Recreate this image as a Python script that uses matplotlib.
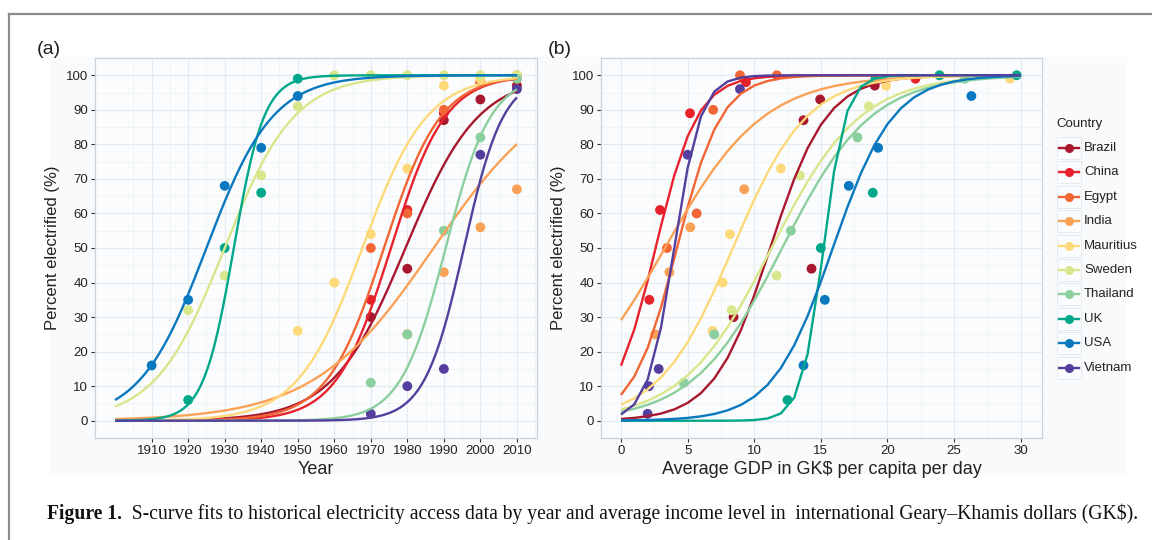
import numpy as np
import matplotlib
matplotlib.use("Agg")
import matplotlib.pyplot as plt
from matplotlib.lines import Line2D
from matplotlib.patches import Rectangle

plt.rcParams['font.family'] = ['Liberation Sans', 'DejaVu Sans']

countries = ['Brazil', 'China', 'Egypt', 'India', 'Mauritius', 'Sweden',
             'Thailand', 'UK', 'USA', 'Vietnam']
colors = ['#A8182F', '#E8222D', '#F26535', '#F9A257', '#FED97A', '#D8E68C',
          '#8CCF9E', '#00A78A', '#0A78BE', '#543F9E']

# ---- panel (a): electrification by year ----
a_years = {
    'Brazil': [1970, 1980, 1990, 2000, 2010],
    'China': [1970, 1980, 1990, 2000, 2010],
    'Egypt': [1970, 1980, 1990, 2000, 2010],
    'India': [1980, 1990, 2000, 2010],
    'Mauritius': [1950, 1960, 1970, 1980, 1990, 2000, 2010],
    'Sweden': [1920, 1930, 1940, 1950, 1960, 1970, 1980, 1990, 2000, 2010],
    'Thailand': [1970, 1980, 1990, 2000, 2010],
    'UK': [1920, 1930, 1940, 1950],
    'USA': [1910, 1920, 1930, 1940, 1950],
    'Vietnam': [1970, 1980, 1990, 2000, 2010],
}
a_values = {
    'Brazil': [30, 44, 87, 93, 97],
    'China': [35, 61, 89, 98, 100],
    'Egypt': [50, 60, 90, 98, 99],
    'India': [25, 43, 56, 67],
    'Mauritius': [26, 40, 54, 73, 97, 99, 100],
    'Sweden': [32, 42, 71, 91, 100, 100, 100, 100, 100, 100],
    'Thailand': [11, 25, 55, 82, 99],
    'UK': [6, 50, 66, 99],
    'USA': [16, 35, 68, 79, 94],
    'Vietnam': [2, 10, 15, 77, 96],
}
# fitted S-curve parameters: steepness, midpoint year
a_fit_k = [0.100, 0.134, 0.128, 0.061, 0.113, 0.105, 0.162, 0.240, 0.110, 0.185]
a_fit_mid = [1979.5, 1975.5, 1973.6, 1987.2, 1967.7, 1930.0, 1990.5, 1932.5, 1925.0, 1995.5]
a_fit_range = [1900, 2010]
a_xticks = [1910, 1920, 1930, 1940, 1950, 1960, 1970, 1980, 1990, 2000, 2010]

# ---- panel (b): electrification by income ----
b_gdp = {
    'Brazil': [8.45, 14.3, 13.7, 14.95, 19.05],
    'China': [2.13, 2.93, 5.18, 9.38, 22.1],
    'Egypt': [3.45, 5.68, 6.92, 8.93, 11.7],
    'India': [2.57, 3.63, 5.2, 9.25],
    'Mauritius': [6.88, 7.63, 8.18, 12.0, 19.9, 29.2],
    'Sweden': [8.3, 11.68, 13.43, 18.6, 23.95],
    'Thailand': [4.7, 7.0, 12.75, 17.75, 25.8],
    'UK': [12.5, 15.0, 18.9, 19.1, 23.9, 29.7],
    'USA': [13.7, 15.3, 17.1, 19.3, 26.3],
    'Vietnam': [2.0, 2.1, 2.83, 5.0, 8.93],
}
b_values = {
    'Brazil': [30, 44, 87, 93, 97],
    'China': [35, 61, 89, 98, 99],
    'Egypt': [50, 60, 90, 100, 100],
    'India': [25, 43, 56, 67],
    'Mauritius': [26, 40, 54, 73, 97, 99],
    'Sweden': [32, 42, 71, 91, 100],
    'Thailand': [11, 25, 55, 82, 99],
    'UK': [6, 50, 66, 99, 100, 100],
    'USA': [16, 35, 68, 79, 94],
    'Vietnam': [2, 10, 15, 77, 96],
}
b_fit_k = [0.47, 0.64, 0.60, 0.27, 0.36, 0.30, 0.30, 1.20, 0.44, 1.00]
b_fit_mid = [11.2, 2.6, 4.2, 3.3, 8.4, 11.3, 12.1, 15.2, 15.9, 4.0]
b_fit_range = [0, 30]
b_xticks = [0, 5, 10, 15, 20, 25, 30]
yticks = [0, 10, 20, 30, 40, 50, 60, 70, 80, 90, 100]


def s_curve(x, k, mid):
    return 100.0 / (1.0 + np.exp(-k * (x - mid)))


W, H = 1152, 540
fig = plt.figure(figsize=(W / 100, H / 100), dpi=100)
fig.patch.set_facecolor('white')


def fx(px):
    return px / W


def fy(py):
    return 1 - py / H


# light background of the embedded chart image
fig.add_artist(Rectangle((fx(50), fy(475)), fx(1127) - fx(50), fy(57) - fy(475),
                         transform=fig.transFigure, facecolor='#F9FAFC',
                         edgecolor='none', zorder=0))
# frame lines of the figure box
fig.add_artist(Line2D([fx(8.5), fx(8.5)], [fy(13.5), 0], transform=fig.transFigure,
                      color='#8C8C8C', lw=1.6))
fig.add_artist(Line2D([fx(8.5), 1], [fy(13.5), fy(13.5)], transform=fig.transFigure,
                      color='#8C8C8C', lw=1.6))


def style_axes(ax, xmin, xmax, xticks, xminor):
    ax.set_facecolor('#FBFCFD')
    ax.set_ylim(-5, 105)
    ax.set_xlim(xmin, xmax)
    ax.set_yticks(yticks)
    ax.set_xticks(xticks)
    ax.set_yticks([v + 5 for v in yticks[:-1]], minor=True)
    ax.set_xticks(xminor, minor=True)
    ax.grid(True, which='major', color='#E4ECF0', lw=0.9, zorder=0)
    ax.grid(True, which='minor', color='#EEF3F5', lw=0.6, zorder=0)
    ax.set_axisbelow(True)
    for s in ax.spines.values():
        s.set_color('#C9D3D8')
        s.set_linewidth(0.9)
    ax.tick_params(which='major', length=3, width=0.8, color='#333333',
                   labelsize=9.5, labelcolor='#222222', pad=2)
    ax.tick_params(which='minor', length=0)


def draw_panel(ax, xs, ys, ks, mids, rng, step):
    for i, c in enumerate(countries):
        ax.scatter(xs[c], ys[c], s=50, color=colors[i], edgecolors='none',
                   zorder=3 + i * 0.01, clip_on=False)
    for i, c in enumerate(countries):
        xx = np.arange(rng[0], rng[1] + step / 2, step)
        ax.plot(xx, s_curve(xx, ks[i], mids[i]), color=colors[i], lw=1.7,
                zorder=4 + i * 0.01, solid_capstyle='butt')


axA = fig.add_axes([fx(95), fy(438), fx(537) - fx(95), fy(58) - fy(438)])
style_axes(axA, 1894.5, 2015.5, a_xticks, list(range(1905, 2016, 10)))
draw_panel(axA, a_years, a_values, a_fit_k, a_fit_mid, a_fit_range, 0.5)
axA.set_xlabel('Year', fontsize=13, color='#222222', labelpad=3)
axA.set_ylabel('Percent electrified (%)', fontsize=12, color='#222222', labelpad=4)

axB = fig.add_axes([fx(601), fy(438), fx(1042) - fx(601), fy(58) - fy(438)])
style_axes(axB, -1.5, 31.6, b_xticks, [2.5, 7.5, 12.5, 17.5, 22.5, 27.5])
draw_panel(axB, b_gdp, b_values, b_fit_k, b_fit_mid, b_fit_range, 1.0)
axB.set_xlabel('Average GDP in GK$ per capita per day', fontsize=13,
               color='#222222', labelpad=3)
axB.set_ylabel('Percent electrified (%)', fontsize=12, color='#222222', labelpad=4)

fig.text(fx(37), fy(50), '(a)', fontsize=14, color='#222222', va='center')
fig.text(fx(548), fy(50), '(b)', fontsize=14, color='#222222', va='center')

# legend
fig.text(fx(1056), fy(124), 'Country', fontsize=9.5, color='#222222', va='center')
for i, c in enumerate(countries):
    yy = 148 + i * 24.4
    fig.add_artist(Rectangle((fx(1057), fy(yy + 11)), fx(24), fy(yy - 11) - fy(yy + 11),
                             transform=fig.transFigure, facecolor='#FBFCFD',
                             edgecolor='#E2E8EC', lw=0.6))
    fig.add_artist(Line2D([fx(1059), fx(1079)], [fy(yy), fy(yy)],
                          transform=fig.transFigure, color=colors[i], lw=1.7))
    fig.add_artist(Line2D([fx(1069)], [fy(yy)], transform=fig.transFigure,
                          marker='o', markersize=6.5, color=colors[i],
                          markeredgewidth=0))
    fig.text(fx(1084), fy(yy), c, fontsize=9.5, color='#222222', va='center')

# caption, fitted to the width of the reference line
cap_bold = 'Figure 1.'
cap_rest = ('  S-curve fits to historical electricity access data by year and average '
            'income level in  international Geary\u2013Khamis dollars (GK$).')
fs = 13
t1 = fig.text(fx(47), fy(514), cap_bold, fontsize=fs, fontweight='bold',
              family=['Liberation Serif', 'DejaVu Serif'], va='center', color='#111111')
t2 = fig.text(fx(47), fy(514), cap_rest, fontsize=fs,
              family=['Liberation Serif', 'DejaVu Serif'], va='center', color='#111111')
fig.canvas.draw()
r = fig.canvas.get_renderer()
for _ in range(3):
    w1 = t1.get_window_extent(r).width
    t2.set_x(fx(47 + w1))
    fig.canvas.draw()
    right = t2.get_window_extent(r).x1
    scale = (1139 - 47) / (right - 47)
    fs = fs * scale
    t1.set_fontsize(fs)
    t2.set_fontsize(fs)
    fig.canvas.draw()
w1 = t1.get_window_extent(r).width
t2.set_x(fx(47 + w1))

fig.savefig('out.png', dpi=100, facecolor='white')
